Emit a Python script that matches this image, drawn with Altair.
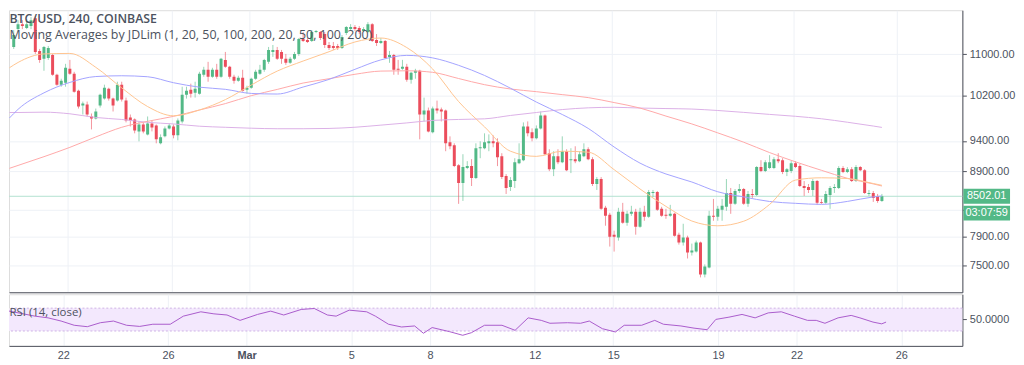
import altair as alt
import pandas as pd
from datetime import datetime, timedelta

# ---------------- data ----------------
BAR0 = datetime(2018, 2, 22, 0, 0)   # opening time (UTC) of bar index 0, 4h bars
FIRST_BAR = -13

opens = [11146, 11513, 11617, 11534, 11576, 11744, 11066, 10908, 10927, 10986, 10598, 10409, 10446,
         10713, 10617, 10297, 10022, 10040, 9826, 9791, 10022, 10150, 10334, 10150, 10113, 10409, 10113,
         9808, 9773, 9564, 9685, 9512, 9703, 9668, 9359, 9478, 9616, 9650, 9495, 9738, 10223, 10315,
         10260, 10241, 10598, 10694, 10560, 10694, 10560, 10888, 10752, 10560, 10484, 10541, 10315, 10352,
         10522, 10617, 10694, 10849, 11046, 11086, 11046, 10908, 10830, 10908, 11006, 11308, 11287, 11267,
         11451, 11451, 11410, 11186, 11166, 11166, 11126, 11430, 11513, 11555, 11534, 11472, 11451, 11617,
         11287, 11227, 11267, 10947, 10986, 10713, 10713, 10752, 10503, 10636, 10675, 9861, 9932, 9547,
         9968, 9950, 9932, 9376, 9326, 8996, 8709, 8948, 8980, 8787, 9276, 9276, 9359, 9393, 9376, 9143,
         8819, 8646, 8740, 9028, 9077, 9650, 9547, 9444, 9616, 9844, 9193, 8931, 9143, 9045, 9226, 9077,
         9094, 9061, 9143, 9259, 9094, 8693, 8772, 8326, 8221, 7930, 7888, 8266, 8104, 8236, 8266, 8046,
         8266, 8192, 8553, 8569, 8311, 8221, 8206, 8236, 7930, 7817, 7888, 7677, 7691, 7817, 7379, 7473,
         8206, 8192, 8296, 8341, 8553, 8386, 8584, 8615, 8386, 8538, 8522, 8964, 8899, 8948, 8948, 9094,
         9077, 8883, 8899, 9028, 8980, 8662, 8646, 8600, 8740, 8416, 8401, 8522, 8631, 8631, 8948, 8883,
         8931, 8740, 8964, 8915, 8538, 8553, 8507, 8431]
highs = [11493, 11701, 11701, 11722, 11765, 11786, 11106, 11166, 11166, 11006, 10617, 10522, 10810,
         10888, 10655, 10315, 10095, 10095, 9879, 9968, 10241, 10409, 10352, 10168, 10465, 10465, 10168,
         9861, 9791, 9738, 9721, 9826, 9756, 9685, 9512, 9650, 9703, 9685, 9791, 10371, 10371, 10428,
         10465, 10655, 10752, 10849, 10733, 10810, 10927, 11046, 10771, 10598, 10579, 10694, 10390, 10541,
         10694, 10790, 10908, 11146, 11186, 11146, 11086, 11006, 10947, 11046, 11328, 11451, 11328, 11493,
         11493, 11472, 11451, 11247, 11247, 11207, 11389, 11576, 11617, 11597, 11576, 11555, 11659, 11638,
         11410, 11328, 11287, 11066, 11006, 10888, 10888, 10810, 10655, 10713, 10694, 10168, 9986, 10004,
         10113, 9986, 9950, 9478, 9359, 9012, 9176, 9061, 9094, 9359, 9393, 9530, 9512, 9495, 9444, 9193,
         8851, 8803, 9110, 9359, 9721, 9738, 9616, 9668, 9915, 9861, 9259, 9226, 9259, 9478, 9259, 9276,
         9309, 9226, 9359, 9292, 9127, 8803, 8803, 8356, 8251, 7988, 8326, 8401, 8281, 8356, 8311, 8326,
         8356, 8600, 8600, 8584, 8341, 8311, 8371, 8251, 7959, 8089, 7916, 7803, 7845, 7831, 7514, 8281,
         8461, 8356, 8461, 8772, 8631, 8615, 8693, 8631, 8584, 8615, 8980, 9077, 9077, 9160, 9127, 9193,
         9110, 8948, 9061, 9061, 9012, 8740, 8693, 8772, 8756, 8461, 8584, 8662, 8693, 8980, 8980, 8964,
         8964, 8996, 8980, 8931, 8600, 8584, 8538, 8538]
lows = [11106, 11451, 11513, 11513, 11513, 11006, 10830, 10675, 10888, 10579, 10390, 10371, 10371,
        10598, 10260, 9968, 9861, 9826, 9598, 9773, 9986, 10131, 10113, 9915, 10095, 10095, 9721,
        9650, 9530, 9393, 9530, 9495, 9564, 9359, 9342, 9461, 9598, 9444, 9410, 9703, 10150, 10168,
        10168, 10223, 10560, 10465, 10541, 10522, 10541, 10733, 10522, 10428, 10465, 10278, 10241, 10334,
        10503, 10598, 10655, 10810, 10947, 10888, 10810, 10790, 10810, 10888, 10967, 11247, 11227, 11247,
        11430, 11287, 11126, 11086, 11086, 11086, 11106, 11389, 11493, 11472, 11410, 11451, 11430, 11247,
        11166, 11207, 10908, 10830, 10598, 10598, 10694, 10465, 10428, 10522, 9427, 9738, 9547, 9530,
        9879, 9738, 9226, 9259, 8964, 8386, 8431, 8931, 8662, 8772, 9110, 9259, 9226, 9292, 8980, 8772,
        8538, 8584, 8631, 9012, 9061, 9478, 9393, 9427, 9598, 9160, 8899, 8819, 9012, 9028, 8899, 8867,
        9028, 9045, 9127, 9077, 8662, 8600, 8296, 8060, 7761, 7691, 7845, 8089, 8060, 8206, 7930, 8031,
        8133, 8177, 8492, 8281, 8192, 8162, 8192, 7902, 7789, 7775, 7595, 7636, 7677, 7339, 7339, 7460,
        8133, 8133, 8133, 8281, 8236, 8371, 8553, 8371, 8341, 8477, 8507, 8883, 8883, 8931, 8931, 9028,
        8851, 8819, 8867, 8948, 8646, 8507, 8553, 8507, 8371, 8386, 8386, 8311, 8553, 8615, 8867, 8867,
        8725, 8725, 8899, 8538, 8507, 8416, 8401, 8416]
closes = [11389, 11617, 11576, 11617, 11701, 11046, 10888, 11146, 11126, 10598, 10409, 10484, 10733,
          10617, 10278, 10004, 10058, 9861, 9791, 9915, 10223, 10352, 10150, 10022, 10409, 10131, 9756,
          9756, 9581, 9685, 9564, 9703, 9633, 9427, 9461, 9616, 9668, 9495, 9756, 10223, 10297, 10241,
          10334, 10617, 10694, 10560, 10694, 10560, 10908, 10752, 10560, 10484, 10541, 10297, 10352, 10522,
          10655, 10694, 10888, 11086, 11086, 10908, 10908, 10830, 10908, 11006, 11308, 11267, 11247, 11451,
          11472, 11328, 11186, 11126, 11126, 11126, 11348, 11555, 11555, 11513, 11451, 11513, 11617, 11267,
          11227, 11267, 10927, 10986, 10694, 10694, 10752, 10503, 10636, 10675, 9861, 9932, 9564, 9968,
          9932, 9915, 9359, 9309, 8980, 8709, 8964, 8980, 8787, 9276, 9292, 9376, 9393, 9359, 9127, 8803,
          8631, 8756, 9045, 9094, 9650, 9530, 9444, 9616, 9844, 9176, 8931, 9143, 9045, 9226, 8915, 9094,
          9061, 9176, 9259, 9094, 8693, 8772, 8311, 8206, 7902, 7902, 8266, 8104, 8236, 8266, 8046, 8266,
          8192, 8569, 8569, 8296, 8206, 8206, 8236, 7916, 7817, 7888, 7677, 7705, 7817, 7379, 7487, 8206,
          8192, 8311, 8356, 8553, 8386, 8584, 8615, 8386, 8538, 8522, 8964, 8899, 9045, 9045, 9094, 9061,
          8883, 8931, 9028, 8964, 8662, 8631, 8600, 8740, 8401, 8401, 8538, 8631, 8646, 8948, 8883, 8931,
          8740, 8964, 8915, 8553, 8553, 8477, 8431, 8502.01]

# moving averages, read once per day (bar index -> value)
ma_bars = [-14, -12, -6, 0, 6, 12, 18, 24, 30, 36, 42, 48, 54, 60, 66, 72, 78, 84, 90, 96, 102, 108,
           114, 120, 126, 132, 138, 144, 150, 156, 162, 168, 174, 180, 186, 188]
ma20 = [10733, 10837, 11006, 11016, 10742, 10349, 10004, 9838, 9942, 10131, 10403, 10669, 10865, 11050,
        11247, 11328, 11134, 10709, 10095, 9643, 9226, 9140, 9226, 9210, 8923, 8615, 8348, 8129, 8059,
        8126, 8377, 8756, 8792, 8780, 8701, 8673]
ma50 = [9798, 9954, 10256, 10452, 10564, 10579, 10560, 10446, 10362, 10322, 10245, 10234, 10365, 10509,
        10703, 10888, 10977, 10927, 10781, 10585, 10343, 10086, 9861, 9616, 9297, 9029, 8853, 8725, 8572,
        8492, 8422, 8394, 8378, 8423, 8492, 8507]
ma100 = [8944, 8991, 9135, 9291, 9468, 9635, 9740, 9828, 9942, 10058, 10204, 10320, 10440, 10522, 10607,
         10669, 10675, 10645, 10526, 10409, 10328, 10278, 10223, 10168, 10077, 9977, 9833, 9694, 9538,
         9378, 9203, 9050, 8912, 8784, 8695, 8662]
ma200 = [9897, 9897, 9903, 9874, 9808, 9773, 9722, 9694, 9654, 9635, 9619, 9610, 9610, 9615, 9636, 9673,
         9712, 9756, 9773, 9784, 9844, 9897, 9950, 9981, 9991, 9977, 9968, 9959, 9933, 9899, 9863, 9829,
         9785, 9724, 9657, 9633]

rsi_bars = [-14, -7, -4, -1, 2, 5, 8, 11, 14, 17, 20, 24, 27, 31, 34, 37, 40, 44, 47, 50, 54, 57, 60, 62,
            65, 69, 71, 74, 77, 80, 82, 84, 88, 91, 93, 96, 100, 103, 106, 109, 111, 115, 118, 120, 123,
            126, 128, 132, 135, 137, 141, 144, 147, 149, 152, 155, 158, 161, 164, 167, 170, 172, 174, 177,
            180, 182, 185, 187, 188]
rsi_vals = [66.5, 56, 53, 47.4, 40, 37.5, 44.5, 47.4, 40, 38, 41.8, 41.8, 56, 63.6, 60, 58, 48.6, 59, 64.8,
            58, 67.7, 69.4, 58, 56, 66.5, 63.6, 56, 41.8, 37, 38.8, 26, 36, 28.8, 22.5, 27, 40, 40, 31.2,
            53, 48.6, 43.5, 44.5, 43.5, 47.4, 34, 28.3, 40, 40, 48.6, 41.8, 38.8, 35, 32.2, 50.3, 54.2, 59,
            53, 61.7, 63.6, 56, 48.6, 48.6, 43.5, 53, 57.3, 53, 45.6, 42.5, 45.6]

last_price = 8502.01
countdown = "03:07:59"
price_ticks = [7500, 7900, 8300, 8900, 9400, 10200, 11000]
date_ticks = [(2, 22), (2, 26), (3, 1), (3, 5), (3, 8), (3, 12), (3, 15), (3, 19), (3, 22), (3, 26)]
title_line1 = "BTC/USD, 240, COINBASE"
title_line2 = "Moving Averages by JDLim (1, 20, 50, 100, 200, 20, 50, 100, 200)"
rsi_title = "RSI (14, close)"

# ---------------- styling ----------------
UP, DOWN = "#53b987", "#eb4d5c"
TXT = "#4c525e"
AXIS = "#50535e"
GRID = "#eef1f6"
FONT = "Liberation Sans"
W = 960
H_MAIN = 284
H_RSI = 52


def bar_time(k):
    return (BAR0 + timedelta(hours=4 * k + 2)).strftime("%Y-%m-%dT%H:%M:%SZ")


candles = pd.DataFrame({
    "t": [bar_time(FIRST_BAR + k) for k in range(len(opens))],
    "open": opens, "high": highs, "low": lows, "close": closes,
})

ma_rows = []
for name, vals in [("MA200", ma200), ("MA100", ma100), ("MA50", ma50), ("MA20", ma20)]:
    for b, v in zip(ma_bars, vals):
        ma_rows.append({"t": bar_time(b), "value": v, "series": name})
ma_df = pd.DataFrame(ma_rows)

rsi_df = pd.DataFrame({"t": [bar_time(b) for b in rsi_bars], "rsi": rsi_vals})

tick_dates = [alt.DateTime(year=2018, month=m, date=d, utc=True) for m, d in date_ticks]
x_scale = alt.Scale(type="utc", domain=[
    alt.DateTime(year=2018, month=2, date=19, hours=22, minutes=13, utc=True),
    alt.DateTime(year=2018, month=3, date=28, hours=7, minutes=55, utc=True)])
y_scale = alt.Scale(type="log", domain=[7143.9, 11914], nice=False, zero=False)
rsi_scale = alt.Scale(domain=[3.9, 94.35], nice=False, zero=False)

x_axis_main = alt.Axis(values=tick_dates, labels=False, ticks=False, domain=True, domainColor=AXIS,
                       grid=True, gridColor=GRID, title=None, minExtent=0)
x_axis_rsi = alt.Axis(values=tick_dates, ticks=False, domain=True, domainColor=AXIS, grid=True,
                      gridColor=GRID, title=None, labelColor=TXT, labelFont=FONT, labelFontSize=11,
                      labelPadding=4,
                      labelExpr="utcdate(datum.value) == 1 ? utcFormat(datum.value, '%b') : '' + utcdate(datum.value)",
                      labelFontWeight={"condition": {"test": "utcdate(datum.value) == 1", "value": "bold"},
                                       "value": "normal"})
y_axis_main = alt.Axis(orient="right", values=price_ticks, title=None, tickSize=4, tickColor=AXIS,
                       domainColor=AXIS, labelColor=TXT, labelFont=FONT, labelFontSize=11, labelPadding=3,
                       gridColor=GRID, labelOverlap=False,
                       labelExpr="datum.value == 8300 ? '' : format(datum.value, '.2f')")
y_axis_rsi = alt.Axis(orient="right", values=[50], title=None, tickSize=4, tickColor=AXIS,
                      domainColor=AXIS, labelColor=TXT, labelFont=FONT, labelFontSize=11, labelPadding=3,
                      grid=False, labelExpr="format(datum.value, '.4f')")

X = alt.X("t:T", scale=x_scale, axis=x_axis_main)
updown = alt.condition("datum.close >= datum.open", alt.value(UP), alt.value(DOWN))

base = alt.Chart(candles)

price_line = alt.Chart(pd.DataFrame({"p": [last_price]})).mark_rule(
    color="#b3e2d1", strokeWidth=1).encode(y=alt.Y("p:Q", scale=y_scale, axis=y_axis_main))

wicks = base.mark_rule(strokeWidth=1, opacity=0.6, clip=True).encode(
    x=X, y=alt.Y("low:Q", scale=y_scale, axis=y_axis_main), y2="high:Q", color=updown)

bodies = base.mark_bar(size=3, clip=True).encode(
    x=X, y=alt.Y("open:Q", scale=y_scale, axis=y_axis_main), y2="close:Q", color=updown)

ma_lines = alt.Chart(ma_df).mark_line(strokeWidth=1, clip=True, interpolate="monotone").encode(
    x=X, y=alt.Y("value:Q", scale=y_scale, axis=y_axis_main),
    color=alt.Color("series:N", legend=None,
                    scale=alt.Scale(domain=["MA20", "MA50", "MA100", "MA200"],
                                    range=["#ffc590", "#a3a3ff", "#ffa8a8", "#dcb0e7"])),
    detail="series:N")

titles = alt.Chart(pd.DataFrame({"label": [title_line1]})).mark_text(
    align="left", baseline="alphabetic", font="Open Sans", fontSize=12.4, fontWeight=600,
    color=TXT).encode(x=alt.value(0.5), y=alt.value(13), text="label:N")
subtitle = alt.Chart(pd.DataFrame({"label": [title_line2]})).mark_text(
    align="left", baseline="alphabetic", font="Open Sans", fontSize=12.5, color=TXT).encode(
    x=alt.value(0.5), y=alt.value(29.3), text="label:N")

box_shape = "M-3.133,-1L3.133,-1L3.133,1L-3.133,1Z"
box_df = pd.DataFrame({"p": [last_price], "price_txt": [f"{last_price:.2f}"], "cd": [countdown]})
box1 = alt.Chart(box_df).mark_point(shape=box_shape, size=225, filled=True, opacity=1, color=UP,
                                    strokeWidth=0).encode(
    x=alt.value(984.5), y=alt.Y("p:Q", scale=y_scale, axis=y_axis_main))
box2 = alt.Chart(box_df).mark_point(shape=box_shape, size=225, filled=True, opacity=1, color=UP,
                                    strokeWidth=0, yOffset=17).encode(
    x=alt.value(984.5), y=alt.Y("p:Q", scale=y_scale, axis=y_axis_main))
txt1 = alt.Chart(box_df).mark_text(color="white", font=FONT, fontSize=11, align="center",
                                   baseline="middle").encode(
    x=alt.value(984.5), y=alt.Y("p:Q", scale=y_scale, axis=y_axis_main), text="price_txt:N")
txt2 = alt.Chart(box_df).mark_text(color="white", font=FONT, fontSize=11, align="center",
                                   baseline="middle", yOffset=17).encode(
    x=alt.value(984.5), y=alt.Y("p:Q", scale=y_scale, axis=y_axis_main), text="cd:N")

main = alt.layer(price_line, wicks, bodies, ma_lines, titles, subtitle, box1, box2, txt1, txt2).properties(
    width=W, height=H_MAIN)

# ---------------- RSI pane ----------------
XR = alt.X("t:T", scale=x_scale, axis=x_axis_rsi)
band = alt.Chart(pd.DataFrame({"lo": [30], "hi": [70]})).mark_rect(color="#f3e8fd").encode(
    x=alt.value(0), x2=alt.value(W), y=alt.Y("lo:Q", scale=rsi_scale, axis=y_axis_rsi), y2="hi:Q")
band_edges = alt.Chart(pd.DataFrame({"lvl": [30, 70]})).mark_rule(
    color="#cfb3e6", strokeDash=[2, 2], strokeWidth=1).encode(
    y=alt.Y("lvl:Q", scale=rsi_scale, axis=y_axis_rsi))
rsi_line = alt.Chart(rsi_df).mark_line(color="#a95ccc", strokeWidth=1, clip=True).encode(
    x=XR, y=alt.Y("rsi:Q", scale=rsi_scale, axis=y_axis_rsi))
rsi_label = alt.Chart(pd.DataFrame({"label": [rsi_title]})).mark_text(
    align="left", baseline="alphabetic", font="Open Sans", fontSize=11.5, color=TXT).encode(
    x=alt.value(0.5), y=alt.value(22), text="label:N")

rsi = alt.layer(band, band_edges, rsi_line, rsi_label).properties(width=W, height=H_RSI)

chart = alt.vconcat(main, rsi, spacing=0, padding=0).configure_view(stroke=None).configure(
    background="white")

chart.save("out.html", embed_options={"renderer": "svg", "actions": False})
